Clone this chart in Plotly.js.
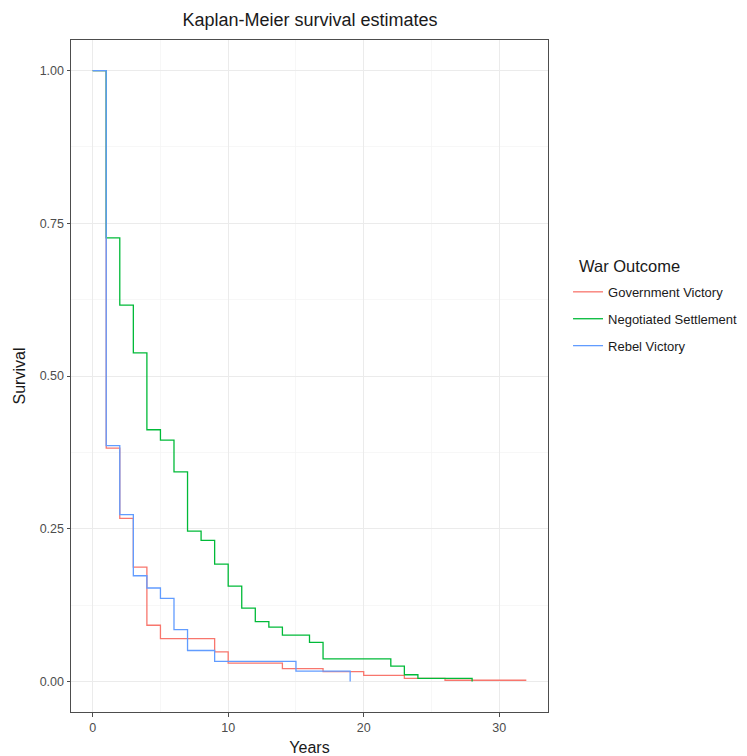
<!DOCTYPE html>
<html>
<head>
<meta charset="utf-8">
<script src="https://cdn.plot.ly/plotly-3.0.1.min.js"></script>
<style>html,body{margin:0;padding:0;background:#fff;}#chart{width:747px;height:756px;}</style>
</head>
<body>
<div id="chart"></div>
<script>
// Government Victory
const govTime = [0, 1, 2, 3, 4, 5, 9, 10, 14, 17, 20, 23, 26, 32];
const govSurv = [1, 0.382, 0.267, 0.187, 0.092, 0.070, 0.0485, 0.030, 0.021, 0.016, 0.0098, 0.005, 0.002, 0.002];
// Negotiated Settlement
const negTime = [0, 1, 2, 3, 4, 5, 6, 7, 8, 9, 10, 11, 12, 13, 14, 16, 17, 22, 23, 24, 28];
const negSurv = [1, 0.726, 0.616, 0.538, 0.412, 0.395, 0.343, 0.246, 0.231, 0.192, 0.156, 0.120, 0.098, 0.089, 0.076, 0.064, 0.037, 0.025, 0.011, 0.005, 0];
// Rebel Victory
const rebTime = [0, 1, 2, 3, 4, 5, 6, 7, 9, 15, 19];
const rebSurv = [1, 0.386, 0.273, 0.173, 0.153, 0.136, 0.085, 0.0507, 0.033, 0.017, 0];

const seriesNames = ["Government Victory", "Negotiated Settlement", "Rebel Victory"];
const seriesColors = ["#F8766D", "#00BA38", "#619CFF"];
const legendTitle = "War Outcome";
const xTicks = [0, 10, 20, 30];
const yTicks = [0, 0.25, 0.5, 0.75, 1];
const yTickText = ["0.00", "0.25", "0.50", "0.75", "1.00"];

const font = "Liberation Sans, Arial, Helvetica, sans-serif";
const data = [[govTime, govSurv], [negTime, negSurv], [rebTime, rebSurv]].map((d, i) => ({
  x: d[0], y: d[1], type: "scatter", mode: "lines",
  line: {shape: "hv", color: seriesColors[i], width: 1.3},
  name: seriesNames[i], legendgroup: "g" + i
}));

const layout = {
  width: 747, height: 756,
  margin: {l: 71, r: 199, t: 40, b: 43.5, autoexpand: false},
  paper_bgcolor: "#fff", plot_bgcolor: "#fff",
  font: {family: font, color: "#4D4D4D", size: 12},
  title: {text: "Kaplan-Meier survival estimates", font: {family: font, size: 18, color: "#1a1a1a"},
          x: 310 / 747, xanchor: "center", y: 1 - 20 / 756, yanchor: "middle"},
  xaxis: {
    range: [-1.6, 33.6], tickvals: xTicks, ticktext: xTicks.map(String),
    showgrid: true, gridcolor: "#EBEBEB", gridwidth: 1,
    minor: {tickvals: [5, 15, 25], showgrid: true, gridcolor: "#F4F4F4", gridwidth: 0.7, ticks: ""},
    zeroline: false, showline: true, mirror: true, linecolor: "#4d4d4d", linewidth: 1,
    ticks: "outside", ticklen: 3.5, tickcolor: "#4d4d4d", tickwidth: 1,
    tickfont: {size: 12.5, color: "#4D4D4D"},
    title: {text: "Years", font: {size: 16, color: "#1a1a1a"}, standoff: 8}
  },
  yaxis: {
    range: [-0.05, 1.05], tickvals: yTicks, ticktext: yTickText,
    showgrid: true, gridcolor: "#EBEBEB", gridwidth: 1,
    minor: {tickvals: [0.125, 0.375, 0.625, 0.875], showgrid: true, gridcolor: "#F4F4F4", gridwidth: 0.7, ticks: ""},
    zeroline: false, showline: true, mirror: true, linecolor: "#4d4d4d", linewidth: 1,
    ticks: "outside", ticklen: 3.5, tickcolor: "#4d4d4d", tickwidth: 1,
    tickfont: {size: 12.5, color: "#4D4D4D"},
    title: {text: "Survival", font: {size: 16, color: "#1a1a1a"}, standoff: 10}
  },
  showlegend: true,
  legend: {
    x: 1.042, xanchor: "left", y: 0.6475, yanchor: "top",
    font: {size: 13, color: "#1a1a1a"},
    tracegroupgap: 7, itemwidth: 30, bgcolor: "rgba(0,0,0,0)"
  },
  annotations: [{
    text: legendTitle, xref: "paper", yref: "paper", x: 1.0608, y: 0.664,
    xanchor: "left", yanchor: "middle", showarrow: false,
    font: {size: 16.5, color: "#1a1a1a"}
  }]
};

Plotly.newPlot("chart", data, layout, {displayModeBar: false, staticPlot: true});
</script>
</body>
</html>
